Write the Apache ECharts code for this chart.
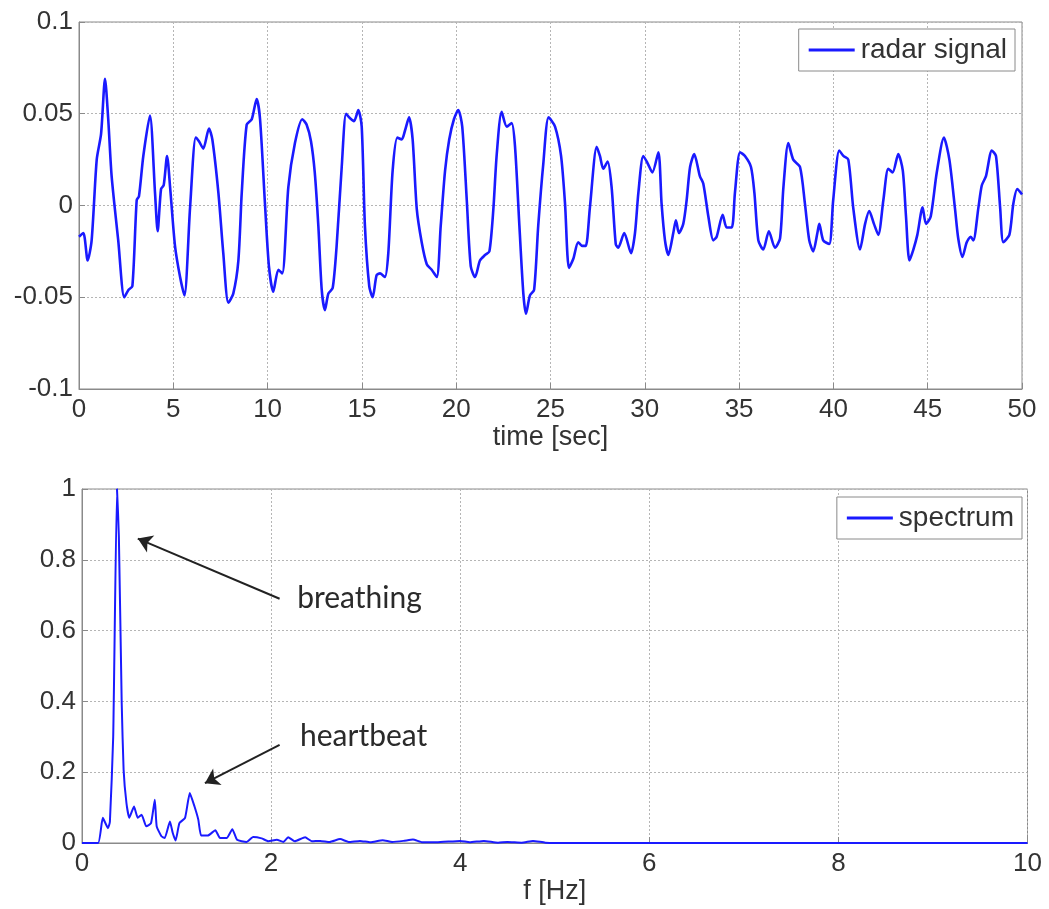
<!DOCTYPE html>
<html>
<head>
<meta charset="utf-8">
<script src="https://cdn.jsdelivr.net/npm/echarts@6/dist/echarts.min.js"></script>
<style>
  html, body { margin: 0; padding: 0; background: #fff; }
  #chart { width: 1049px; height: 909px; }
</style>
</head>
<body>
<div id="chart"></div>
<script>
// radar signal
var radarTime = [0.0, 0.23, 0.46, 0.67, 0.94, 1.17, 1.38, 1.55, 1.73, 2.08, 2.40, 2.62, 2.83, 3.06, 3.18, 3.41, 3.76, 4.03, 4.17, 4.35,
  4.49, 4.67, 4.83, 5.09, 5.36, 5.59, 5.89, 6.19, 6.36, 6.59, 6.89, 7.07, 7.39, 7.65, 7.92, 8.18, 8.45, 8.63, 8.89, 9.16,
  9.42, 9.60, 9.86, 10.07, 10.30, 10.57, 10.78, 11.10, 11.45, 11.84, 12.07, 12.30, 12.50, 12.69, 12.87, 13.04, 13.22, 13.45, 13.66, 13.93,
  14.16, 14.33, 14.58, 14.81, 14.99, 15.16, 15.39, 15.57, 15.78, 15.96, 16.22, 16.40, 16.63, 16.88, 17.11, 17.29, 17.50, 17.69, 17.91, 18.17,
  18.44, 18.70, 18.97, 19.18, 19.41, 19.63, 19.88, 20.11, 20.32, 20.56, 20.77, 21.00, 21.26, 21.53, 21.76, 21.97, 22.15, 22.41, 22.68, 22.94,
  23.12, 23.35, 23.56, 23.70, 23.91, 24.13, 24.35, 24.62, 24.90, 25.24, 25.56, 25.77, 25.98, 26.21, 26.47, 26.69, 26.87, 27.09, 27.45, 27.62,
  27.80, 28.03, 28.24, 28.46, 28.59, 28.91, 29.27, 29.48, 29.66, 29.92, 30.15, 30.40, 30.72, 30.89, 31.07, 31.25, 31.51, 31.65, 31.81, 32.04,
  32.22, 32.40, 32.62, 32.92, 33.10, 33.37, 33.63, 33.81, 34.13, 34.34, 34.61, 34.78, 35.05, 35.31, 35.63, 35.81, 36.02, 36.28, 36.58, 36.90,
  37.17, 37.35, 37.61, 37.87, 38.23, 38.49, 38.72, 38.93, 39.15, 39.25, 39.46, 39.78, 39.99, 40.31, 40.53, 40.79, 41.06, 41.41, 41.68, 41.90,
  42.15, 42.38, 42.65, 42.91, 43.14, 43.44, 43.68, 43.85, 44.03, 44.24, 44.45, 44.73, 44.91, 45.16, 45.48, 45.86, 46.15, 46.45, 46.62, 46.84,
  47.07, 47.28, 47.42, 47.69, 47.87, 48.09, 48.40, 48.62, 48.84, 49.01, 49.33, 49.54, 49.75, 49.93, 50.0];
var radarValue = [-0.017, -0.015, -0.030, -0.019, 0.025, 0.039, 0.069, 0.047, 0.016, -0.019, -0.050, -0.046, -0.044, 0.003, 0.005, 0.027, 0.049, 0.007, -0.014, 0.009,
  0.011, 0.027, 0.010, -0.022, -0.039, -0.049, -0.001, 0.037, 0.035, 0.031, 0.042, 0.036, 0.007, -0.026, -0.053, -0.048, -0.030, 0.007, 0.044, 0.047,
  0.058, 0.047, 0.001, -0.033, -0.047, -0.035, -0.037, 0.010, 0.034, 0.047, 0.044, 0.035, 0.018, -0.011, -0.046, -0.057, -0.048, -0.045, -0.022, 0.021,
  0.050, 0.048, 0.046, 0.052, 0.043, -0.011, -0.044, -0.050, -0.038, -0.037, -0.039, -0.026, 0.019, 0.037, 0.036, 0.041, 0.048, 0.036, -0.002, -0.020,
  -0.032, -0.035, -0.039, -0.011, 0.019, 0.036, 0.047, 0.052, 0.043, 0.003, -0.033, -0.039, -0.030, -0.027, -0.025, -0.002, 0.028, 0.051, 0.043, 0.045,
  0.032, -0.011, -0.048, -0.059, -0.049, -0.046, -0.011, 0.023, 0.048, 0.043, 0.027, 0.001, -0.034, -0.029, -0.020, -0.022, -0.022, -0.001, 0.032, 0.027,
  0.020, 0.024, 0.010, -0.021, -0.023, -0.015, -0.026, -0.015, 0.007, 0.027, 0.023, 0.018, 0.029, 0.001, -0.019, -0.027, -0.015, -0.008, -0.015, -0.010,
  0.003, 0.021, 0.028, 0.016, 0.012, -0.006, -0.019, -0.017, -0.005, -0.012, -0.012, 0.007, 0.029, 0.027, 0.021, 0.007, -0.019, -0.024, -0.014, -0.023,
  -0.018, 0.010, 0.034, 0.025, 0.021, 0.001, -0.019, -0.025, -0.015, -0.010, -0.019, -0.021, 0.003, 0.030, 0.027, 0.025, -0.002, -0.024, -0.010, -0.003,
  -0.010, -0.016, 0.003, 0.020, 0.018, 0.028, 0.019, -0.006, -0.030, -0.024, -0.016, -0.001, -0.010, -0.006, 0.018, 0.037, 0.025, -0.002, -0.018, -0.028,
  -0.020, -0.017, -0.019, -0.001, 0.011, 0.016, 0.030, 0.027, -0.001, -0.020, -0.016, 0.001, 0.009, 0.007, 0.006];

// spectrum
var specFreq = [0, 0.17, 0.22, 0.275, 0.295, 0.33, 0.37, 0.39, 0.42, 0.44, 0.47, 0.50, 0.55, 0.59, 0.63, 0.68, 0.73, 0.77, 0.79, 0.84,
  0.875, 0.93, 0.96, 0.99, 1.03, 1.09, 1.14, 1.19, 1.23, 1.26, 1.33, 1.41, 1.46, 1.53, 1.59, 1.64, 1.74, 1.81, 1.90, 1.97,
  2.06, 2.13, 2.18, 2.25, 2.36, 2.43, 2.52, 2.62, 2.73, 2.82, 2.94, 3.05, 3.18, 3.28, 3.40, 3.50, 3.60, 3.75, 4.0, 4.1,
  4.25, 4.4, 4.5, 4.65, 4.77, 4.9, 5.2, 10];
var specAmp = [0, 0, 0.071, 0.042, 0.06, 0.30, 1.0, 0.865, 0.395, 0.207, 0.113, 0.071, 0.103, 0.071, 0.080, 0.047, 0.056, 0.122, 0.047, 0.019,
  0.014, 0.061, 0.028, 0.007, 0.056, 0.071, 0.141, 0.103, 0.066, 0.021, 0.021, 0.036, 0.014, 0.014, 0.039, 0.009, 0.003, 0.017, 0.013, 0.005,
  0.009, 0.003, 0.016, 0.005, 0.016, 0.005, 0.006, 0.003, 0.011, 0.003, 0.006, 0.002, 0.008, 0.003, 0.006, 0.010, 0.002, 0.002, 0.006, 0.002,
  0.006, 0.001, 0.003, 0.001, 0.006, 0.001, 0, 0];

// annotations on the spectrum
var noteText = ['breathing', 'heartbeat'];
var noteAt = [[2.27, 0.69], [2.30, 0.30]];
var arrowFrom = [[2.09, 0.69], [2.09, 0.277]];
var arrowTo = [[0.59, 0.86], [1.30, 0.169]];

var font = 'Liberation Sans, Arial, sans-serif';
var blue = '#1a1aff';

function zip (xs, ys) {
  var out = [];
  for (var i = 0; i < xs.length; i++) {
    out.push([xs[i], ys[i]]);
  }
  return out;
}

function makeX (grid, min, max, step, name, gap) {
  return {
    gridIndex: grid,
    type: 'value',
    min: min,
    max: max,
    interval: step,
    name: name,
    nameLocation: 'middle',
    nameGap: gap,
    nameTextStyle: {color: '#333', fontSize: 27, fontFamily: font},
    axisLine: {show: true, onZero: false, lineStyle: {color: '#8a8a8a', width: 1}},
    axisTick: {show: true, inside: true, length: 6, lineStyle: {color: '#8a8a8a'}},
    axisLabel: {color: '#333', fontSize: 26, fontFamily: font, margin: 8},
    splitLine: {show: true, lineStyle: {color: '#b5b5b5', width: 1, type: [2, 2]}}
  };
}

function makeY (grid, min, max, step) {
  return {
    gridIndex: grid,
    type: 'value',
    min: min,
    max: max,
    interval: step,
    axisLine: {show: true, onZero: false, lineStyle: {color: '#8a8a8a', width: 1}},
    axisTick: {show: true, inside: true, length: 6, lineStyle: {color: '#8a8a8a'}},
    axisLabel: {color: '#333', fontSize: 26, fontFamily: font, margin: 6},
    splitLine: {show: true, lineStyle: {color: '#b5b5b5', width: 1, type: [2, 2]}}
  };
}

var legendBase = {
  orient: 'horizontal',
  backgroundColor: '#fff',
  borderColor: '#8a8a8a',
  borderWidth: 1,
  borderRadius: 0,
  icon: 'rect',
  itemWidth: 46,
  itemHeight: 3,
  itemGap: 4,
  padding: [6, 8, 6, 10],
  textStyle: {color: '#333', fontSize: 28, fontFamily: font, lineHeight: 30, padding: [0, 0, 0, 1]}
};

var chart = echarts.init(document.getElementById('chart'));
chart.setOption({
  animation: false,
  backgroundColor: '#fff',
  grid: [
    {left: 79, top: 22, width: 943, height: 367, show: true, borderColor: '#8a8a8a', borderWidth: 1},
    {left: 82, top: 489, width: 945.5, height: 354, show: true, borderColor: '#8a8a8a', borderWidth: 1}
  ],
  legend: [
    Object.assign({}, legendBase, {data: ['radar signal'], right: 34, top: 29}),
    Object.assign({}, legendBase, {data: ['spectrum'], right: 27, top: 497})
  ],
  xAxis: [
    makeX(0, 0, 50, 5, 'time [sec]', 35),
    makeX(1, 0, 10, 2, 'f [Hz]', 32)
  ],
  yAxis: [
    makeY(0, -0.1, 0.1, 0.05),
    makeY(1, 0, 1, 0.2)
  ],
  series: [
    {
      name: 'radar signal',
      type: 'line',
      xAxisIndex: 0,
      yAxisIndex: 0,
      symbol: 'none',
      smooth: 0.25,
      lineStyle: {color: blue, width: 2.6},
      itemStyle: {color: blue},
      data: zip(radarTime, radarValue)
    },
    {
      name: 'spectrum',
      type: 'line',
      xAxisIndex: 1,
      yAxisIndex: 1,
      symbol: 'none',
      smooth: 0.15,
      lineStyle: {color: blue, width: 2},
      itemStyle: {color: blue},
      data: zip(specFreq, specAmp),
      markLine: {
        silent: true,
        symbol: ['none', 'arrow'],
        symbolSize: 14,
        label: {show: false},
        lineStyle: {color: '#222', width: 2, type: 'solid'},
        data: arrowFrom.map(function (p, i) {
          return [{coord: p}, {coord: arrowTo[i]}];
        })
      },
      markPoint: {
        silent: true,
        symbol: 'circle',
        symbolSize: 1,
        itemStyle: {color: 'rgba(0,0,0,0)'},
        label: {
          show: true,
          position: 'right',
          distance: 0,
          formatter: '{b}',
          color: '#2a2a2a',
          fontSize: 30,
          fontFamily: 'Lato, Open Sans, sans-serif'
        },
        data: noteText.map(function (t, i) {
          return {name: t, coord: noteAt[i]};
        })
      }
    }
  ]
});
</script>
</body>
</html>
